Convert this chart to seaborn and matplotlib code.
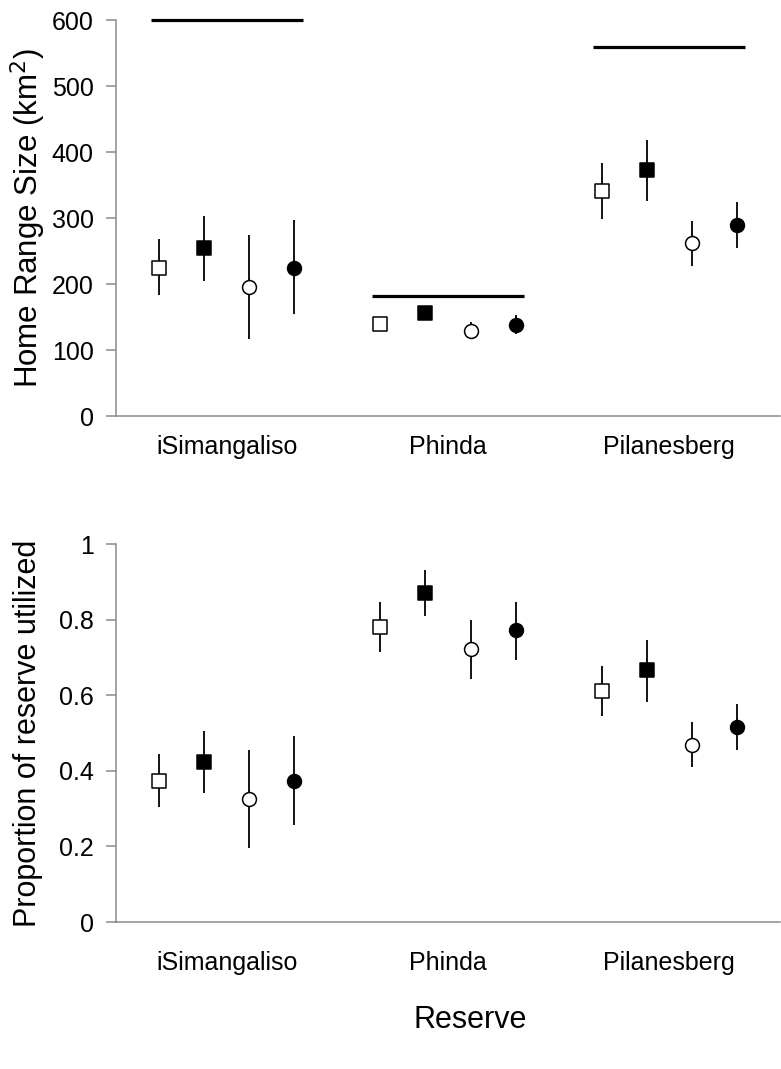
import numpy as np
import pandas as pd
import matplotlib
matplotlib.use("Agg")
import matplotlib.pyplot as plt
import seaborn as sns

# ---------------- data ----------------
reserves = ["iSimangaliso", "Phinda", "Pilanesberg"]
series = ["open_square", "filled_square", "open_circle", "filled_circle"]

# Home range size (km^2): mean, lower bound, upper bound
hr_mean = {
    "open_square":   [225, 140, 341],
    "filled_square": [254, 156, 372],
    "open_circle":   [196, 129, 262],
    "filled_circle": [225, 138, 289],
}
hr_low = {
    "open_square":   [183, 132, 298],
    "filled_square": [204, 151, 326],
    "open_circle":   [117, 116, 228],
    "filled_circle": [154, 125, 254],
}
hr_high = {
    "open_square":   [268, 148, 383],
    "filled_square": [303, 161, 418],
    "open_circle":   [274, 143, 296],
    "filled_circle": [297, 153, 324],
}
reserve_area = [600, 182, 559]

# Proportion of reserve utilized: mean, lower, upper
pr_mean = {
    "open_square":   [0.374, 0.781, 0.610],
    "filled_square": [0.422, 0.870, 0.666],
    "open_circle":   [0.326, 0.723, 0.469],
    "filled_circle": [0.374, 0.772, 0.517],
}
pr_low = {
    "open_square":   [0.305, 0.714, 0.544],
    "filled_square": [0.341, 0.809, 0.581],
    "open_circle":   [0.196, 0.644, 0.409],
    "filled_circle": [0.256, 0.694, 0.455],
}
pr_high = {
    "open_square":   [0.444, 0.847, 0.676],
    "filled_square": [0.504, 0.930, 0.746],
    "open_circle":   [0.455, 0.798, 0.529],
    "filled_circle": [0.493, 0.847, 0.578],
}

hr_ticks = [0, 100, 200, 300, 400, 500, 600]
pr_ticks = [0, 0.2, 0.4, 0.6, 0.8, 1.0]
pr_ticklabels = ["0", "0.2", "0.4", "0.6", "0.8", "1"]

# ---------------- style ----------------
sns.set_theme(style="white")
plt.rcParams["font.family"] = ["Liberation Sans", "DejaVu Sans"]
plt.rcParams["text.color"] = "black"
plt.rcParams["axes.labelcolor"] = "black"
plt.rcParams["xtick.color"] = "black"
plt.rcParams["ytick.color"] = "black"

offsets = {"open_square": -0.305, "filled_square": -0.102,
           "open_circle": 0.102, "filled_circle": 0.305}
marker_of = {"open_square": "s", "filled_square": "s",
             "open_circle": "o", "filled_circle": "o"}
face_of = {"open_square": "white", "filled_square": "black",
           "open_circle": "white", "filled_circle": "black"}

GRAY = "#8a8a8a"

fig = plt.figure(figsize=(7.81, 10.69), dpi=100)
ax1 = fig.add_axes([116/781, 1-416/1069, 664/781, 396/1069])
ax2 = fig.add_axes([116/781, 1-922/1069, 664/781, 378/1069])


def build_df(mean, low, high):
    rows = []
    for s in series:
        for i, r in enumerate(reserves):
            rows.append(dict(series=s, reserve=r, x=i + offsets[s],
                             y=mean[s][i], lo=low[s][i], hi=high[s][i]))
    return pd.DataFrame(rows)


def draw(ax, df, ylim, ticks, ticklabels, xpad):
    for s in series:
        d = df[df.series == s]
        ax.vlines(d.x, d.lo, d.hi, color="black", lw=1.3, zorder=2)
        sns.scatterplot(data=d, x="x", y="y", ax=ax, marker=marker_of[s],
                        s=100, color=face_of[s], edgecolor="black",
                        linewidth=1.1, zorder=3, legend=False, clip_on=False)
    ax.set_xlim(-0.5, 2.5)
    ax.set_ylim(*ylim)
    ax.set_xticks(range(len(reserves)))
    ax.set_xticklabels(reserves, fontsize=18)
    ax.set_yticks(ticks)
    ax.set_yticklabels(ticklabels, fontsize=18)
    ax.set_xlabel("")
    ax.set_ylabel("")
    for sp in ["top", "right"]:
        ax.spines[sp].set_visible(False)
    for sp in ["left", "bottom"]:
        ax.spines[sp].set_color(GRAY)
        ax.spines[sp].set_linewidth(1.1)
    ax.tick_params(axis="y", left=True, length=7, width=1.1, color=GRAY,
                   pad=9, labelcolor="black")
    ax.tick_params(axis="x", bottom=False, length=0, pad=xpad,
                   labelcolor="black")


df_hr = build_df(hr_mean, hr_low, hr_high)
df_pr = build_df(pr_mean, pr_low, pr_high)

draw(ax1, df_hr, (0, 600), hr_ticks, [str(t) for t in hr_ticks], 14)
draw(ax2, df_pr, (0, 1), pr_ticks, pr_ticklabels, 21)

# reserve size lines
ax1.hlines(reserve_area, np.arange(len(reserves)) - 0.344,
           np.arange(len(reserves)) + 0.344, color="black", lw=2.3,
           zorder=4, clip_on=False)

fig.text(28/781, 1-218/1069, "Home Range Size (km$^2$)", rotation=90,
         ha="center", va="center", fontsize=22.5, color="black")
fig.text(28/781, 1-733/1069, "Proportion of reserve utilized", rotation=90,
         ha="center", va="center", fontsize=22, color="black")
fig.text(470/781, 1-1020/1069, "Reserve", ha="center", va="center",
         fontsize=22, color="black")

fig.savefig("out.png", dpi=100, facecolor="white")
